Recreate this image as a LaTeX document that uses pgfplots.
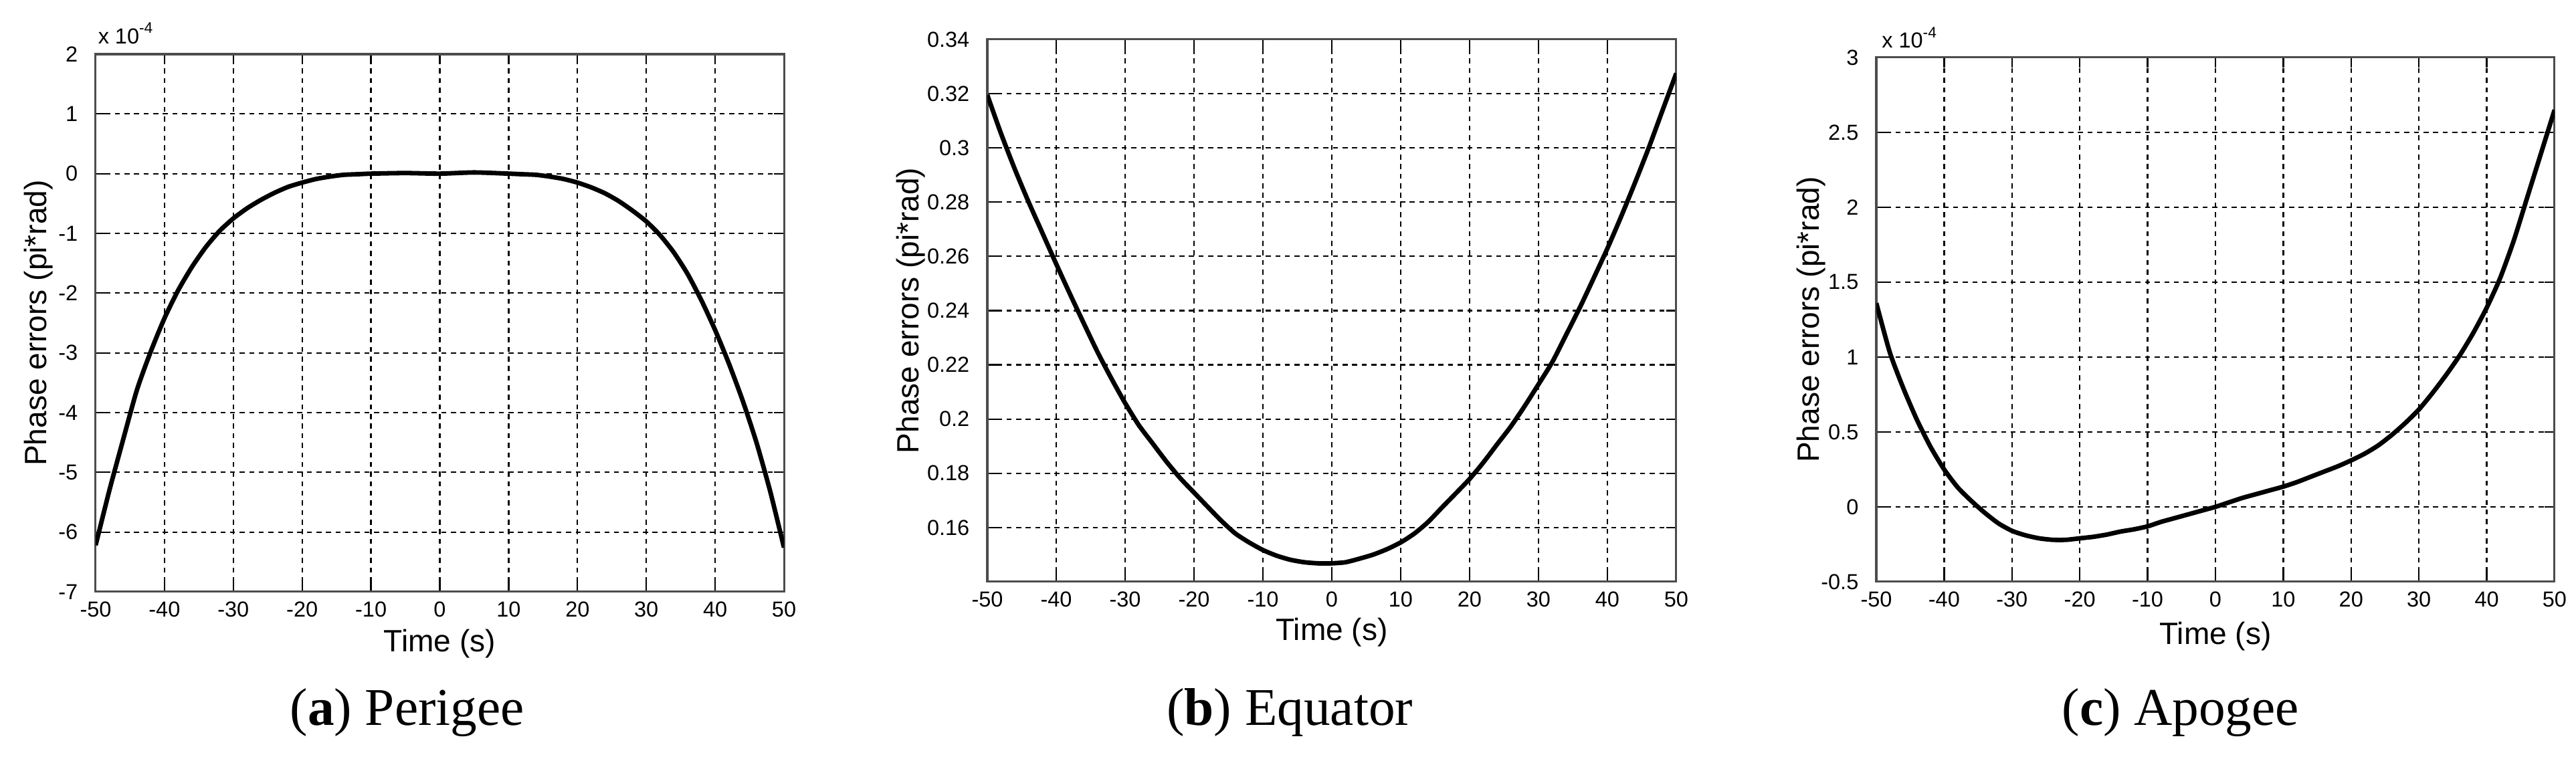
\documentclass[border=0pt]{standalone}
\usepackage{fontspec}
\setmainfont{Liberation Sans}
\newfontfamily\capfont{Liberation Serif}
\usepackage{pgfplots}
\pgfplotsset{compat=1.18}

% shared look of the three matlab-style panels
\pgfplotsset{
  matlab/.style={
    scale only axis,
    anchor=south west,
    clip mode=individual,
    xmin=-50, xmax=50,
    xtick={-50,-40,-30,-20,-10,0,10,20,30,40,50},
    grid=major,
    major grid style={black, line width=0.3pt, dash pattern=on 1pt off 0.9pt},
    axis line style={black!70, line width=0.4pt},
    tick style={black, line width=0.3pt},
    major tick length=2pt,
    tick align=inside,
    tick pos=both,
    /pgf/number format/assume math mode=true,
    tick label style={font=\fontsize{4.3}{5}\selectfont},
    xticklabel style={inner sep=0.5pt, yshift=-1.3pt},
    label style={font=\fontsize{6.1}{7}\selectfont, inner sep=0pt},
    xlabel={Time (s)},
    ylabel={Phase errors (pi*rad)},
  },
  curve/.style={black, line width=0.9pt, no marks, smooth, tension=0.4},
}
\tikzset{sclabel/.style={anchor=base west, inner sep=0pt, font=\fontsize{4.3}{5}\selectfont}}

\begin{document}
\begin{tikzpicture}
\useasboundingbox (0,0) rectangle (509.87pt,150.27pt);

% (a) Perigee
\begin{axis}[matlab,
  at={(18.93pt,33.10pt)}, width=136.24pt, height=106.45pt,
  ymin=-7e-4, ymax=2e-4,
  ytick={-7e-4,-6e-4,-5e-4,-4e-4,-3e-4,-2e-4,-1e-4,0,1e-4,2e-4},
  scaled y ticks=base 10:4, ytick scale label code/.code={},
  xlabel style={at={(axis description cs:0.5,-0.097)}, anchor=center},
  ylabel style={at={(axis description cs:-0.0826,0.5)}, anchor=center}]
\addplot[curve] coordinates {
(-50,-6.22e-4)(-48,-5.30e-4)(-46,-4.45e-4)(-44,-3.62e-4)(-42,-2.98e-4)
(-40,-2.42e-4)(-38,-1.95e-4)(-36,-1.56e-4)(-34,-1.23e-4)(-32,-0.96e-4)
(-30,-0.75e-4)(-28,-0.58e-4)(-26,-0.44e-4)(-24,-0.32e-4)(-22,-0.22e-4)
(-20,-0.15e-4)(-18,-0.09e-4)(-16,-0.05e-4)(-14,-0.02e-4)(-12,-0.01e-4)
(-10,0)(-5,0.01e-4)(0,0)(5,0.02e-4)(10,0)
(12,-0.01e-4)(14,-0.02e-4)(16,-0.05e-4)(18,-0.09e-4)(20,-0.15e-4)
(22,-0.23e-4)(24,-0.33e-4)(26,-0.46e-4)(28,-0.62e-4)(30,-0.80e-4)
(32,-1.03e-4)(34,-1.32e-4)(36,-1.68e-4)(38,-2.12e-4)(40,-2.62e-4)
(42,-3.18e-4)(44,-3.80e-4)(46,-4.50e-4)(48,-5.32e-4)(50,-6.26e-4)};
\node[sclabel, xshift=0.3pt, yshift=2.1pt] at (axis description cs:0,1) {x 10\textsuperscript{-4}};
\end{axis}

% (b) Equator
\begin{axis}[matlab,
  at={(195.42pt,35.09pt)}, width=136.37pt, height=107.38pt,
  ymin=0.14, ymax=0.34,
  ytick={0.16,0.18,0.2,0.22,0.24,0.26,0.28,0.3,0.32,0.34},
  xlabel style={at={(axis description cs:0.5,-0.093)}, anchor=center},
  ylabel style={at={(axis description cs:-0.1107,0.5)}, anchor=center}]
\addplot[curve] coordinates {
(-50,0.3195)(-48,0.3052)(-46,0.2921)(-44,0.2800)(-42,0.2686)
(-40,0.2572)(-38,0.2461)(-36,0.2353)(-34,0.2247)(-32,0.2150)
(-30,0.2059)(-28,0.1977)(-26,0.1910)(-24,0.1843)(-22,0.1782)
(-20,0.1729)(-18,0.1676)(-16,0.1624)(-14,0.1578)(-12,0.1545)
(-10,0.1517)(-8,0.1496)(-6,0.1481)(-4,0.1472)(-2,0.1468)
(0,0.1468)(2,0.1472)(4,0.1485)(6,0.1500)(8,0.1520)
(10,0.1545)(12,0.1578)(14,0.1621)(16,0.1674)(18,0.1726)
(20,0.1779)(22,0.1840)(24,0.1907)(26,0.1973)(28,0.2048)
(30,0.2128)(32,0.2210)(34,0.2310)(36,0.2411)(38,0.2519)
(40,0.2629)(42,0.2747)(44,0.2871)(46,0.3000)(48,0.3138)(50,0.3275)};
\end{axis}

% (c) Apogee
\begin{axis}[matlab,
  at={(371.38pt,35.09pt)}, width=134.25pt, height=103.80pt,
  ymin=-0.5e-4, ymax=3e-4,
  ytick={-0.5e-4,0,0.5e-4,1e-4,1.5e-4,2e-4,2.5e-4,3e-4},
  scaled y ticks=base 10:4, ytick scale label code/.code={},
  xlabel style={at={(axis description cs:0.5,-0.104)}, anchor=center},
  ylabel style={at={(axis description cs:-0.0957,0.5)}, anchor=center}]
\addplot[curve] coordinates {
(-50,1.36e-4)(-48,1.03e-4)(-46,0.79e-4)(-44,0.58e-4)(-42,0.40e-4)
(-40,0.25e-4)(-38,0.13e-4)(-36,0.04e-4)(-34,-0.04e-4)(-32,-0.11e-4)
(-30,-0.16e-4)(-28,-0.19e-4)(-26,-0.21e-4)(-24,-0.22e-4)(-22,-0.22e-4)
(-20,-0.21e-4)(-18,-0.20e-4)(-16,-0.185e-4)(-14,-0.165e-4)(-12,-0.15e-4)
(-10,-0.13e-4)(-8,-0.10e-4)(-6,-0.075e-4)(-4,-0.05e-4)(-2,-0.025e-4)
(0,0)(2,0.03e-4)(4,0.06e-4)(6,0.085e-4)(8,0.11e-4)
(10,0.135e-4)(12,0.165e-4)(14,0.20e-4)(16,0.235e-4)(18,0.27e-4)
(20,0.31e-4)(22,0.355e-4)(24,0.41e-4)(26,0.48e-4)(28,0.56e-4)
(30,0.65e-4)(32,0.76e-4)(34,0.88e-4)(36,1.01e-4)(38,1.16e-4)
(40,1.33e-4)(42,1.53e-4)(44,1.78e-4)(46,2.07e-4)(48,2.36e-4)(50,2.65e-4)};
\node[sclabel, xshift=0.9pt, yshift=1.85pt] at (axis description cs:0,1) {x 10\textsuperscript{-4}};
\end{axis}

\node[font=\capfont\fontsize{10.5}{12}\selectfont, anchor=base] at (80.6pt,6.62pt) {(\textbf{a}) Perigee};
\node[font=\capfont\fontsize{10.5}{12}\selectfont, anchor=base] at (255.3pt,6.62pt) {(\textbf{b}) Equator};
\node[font=\capfont\fontsize{10.5}{12}\selectfont, anchor=base] at (431.6pt,6.62pt) {(\textbf{c}) Apogee};
\end{tikzpicture}
\end{document}
